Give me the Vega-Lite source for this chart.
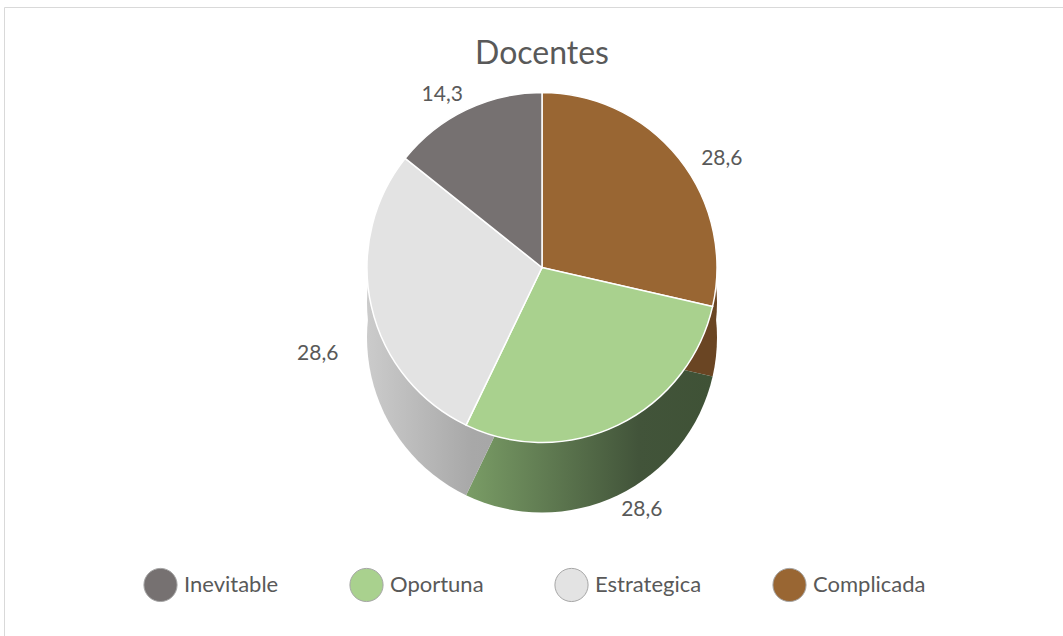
{
  "$schema": "https://vega.github.io/schema/vega-lite/v6.json",
  "width": 1076,
  "height": 629,
  "autosize": {"type": "none"},
  "padding": {"left": 4, "top": 7, "right": 0, "bottom": 0},
  "background": "white",
  "view": {"stroke": "#d9d9d9", "strokeWidth": 1, "fill": "white"},
  "config": {
    "view": {"stroke": "#d9d9d9", "strokeWidth": 1},
    "locale": {"number": {"decimal": ",", "thousands": ".", "grouping": [3], "currency": ["", " €"]}},
    "font": "Lato"
  },
  "title": {"text": "Docentes", "font": "Lato", "fontSize": 32, "fontWeight": "normal", "color": "#595959", "offset": -64, "anchor": "middle"},
  "data": {"values": [
    {"categoria": "Complicada", "valor": 28.6, "orden": 1},
    {"categoria": "Oportuna", "valor": 28.6, "orden": 2},
    {"categoria": "Estrategica", "valor": 28.6, "orden": 3},
    {"categoria": "Inevitable", "valor": 14.3, "orden": 4}
  ]},
  "transform": [
    {"stack": "valor", "groupby": [], "sort": [{"field": "orden", "order": "ascending"}], "as": ["t0", "t1"]}
  ],
  "layer": [
    {
      "transform": [{"filter": "datum.categoria === 'Complicada'"}],
      "mark": {"type": "arc", "outerRadius": 175, "yOffset": 16, "fill": "#6a4523"},
      "encoding": {"theta": {"field": "t0", "type": "quantitative"}, "theta2": {"field": "t1"}}
    },
    {
      "transform": [{"filter": "datum.categoria === 'Complicada'"}],
      "mark": {"type": "arc", "outerRadius": 175, "yOffset": -19, "fill": "#6a4523"},
      "encoding": {"theta": {"field": "t0", "type": "quantitative"}, "theta2": {"field": "t1"}}
    },
    {
      "transform": [{"filter": "datum.categoria === 'Oportuna'"}],
      "mark": {"type": "arc", "outerRadius": 175, "yOffset": 16,
        "fill": {"gradient": "linear", "x1": 0, "x2": 1, "y1": 0, "y2": 0,
          "stops": [{"offset": 0, "color": "#7a9d66"}, {"offset": 0.7, "color": "#42543a"}, {"offset": 1, "color": "#3f5236"}]}},
      "encoding": {"theta": {"field": "t0", "type": "quantitative"}, "theta2": {"field": "t1"}}
    },
    {
      "transform": [{"filter": "datum.categoria === 'Estrategica'"}],
      "mark": {"type": "arc", "outerRadius": 175, "yOffset": 16,
        "fill": {"gradient": "linear", "x1": 0, "x2": 1, "y1": 0, "y2": 0,
          "stops": [{"offset": 0, "color": "#cbcbcb"}, {"offset": 0.6, "color": "#a8a8a8"}, {"offset": 1, "color": "#a4a4a4"}]}},
      "encoding": {"theta": {"field": "t0", "type": "quantitative"}, "theta2": {"field": "t1"}}
    },
    {
      "transform": [{"filter": "datum.categoria === 'Estrategica'"}],
      "mark": {"type": "arc", "outerRadius": 175, "yOffset": -19,
        "fill": {"gradient": "linear", "x1": 0, "x2": 1, "y1": 0, "y2": 0,
          "stops": [{"offset": 0, "color": "#cbcbcb"}, {"offset": 0.6, "color": "#a8a8a8"}, {"offset": 1, "color": "#a4a4a4"}]}},
      "encoding": {"theta": {"field": "t0", "type": "quantitative"}, "theta2": {"field": "t1"}}
    },
    {
      "mark": {"type": "arc", "outerRadius": 175, "yOffset": -54, "stroke": "white", "strokeWidth": 1.5},
      "encoding": {
        "theta": {"field": "t0", "type": "quantitative"},
        "theta2": {"field": "t1"},
        "color": {
          "field": "categoria", "type": "nominal",
          "scale": {"domain": ["Inevitable", "Oportuna", "Estrategica", "Complicada"], "range": ["#767171", "#a9d18e", "#e3e3e3", "#996633"]},
          "legend": {"orient": "none", "legendX": 139, "legendY": 560, "direction": "horizontal", "title": null,
            "symbolType": "circle", "symbolSize": 1100, "symbolStrokeColor": "#a6a6a6", "symbolStrokeWidth": 1,
            "labelFont": "Lato", "labelFontSize": 22, "labelColor": "#595959", "columnPadding": 68, "labelOffset": 6}
        }
      }
    },
    {
      "mark": {"type": "text", "radius": 230, "yOffset": -19, "font": "Lato", "fontSize": 21, "color": "#595959"},
      "encoding": {
        "theta": {"field": "valor", "type": "quantitative", "stack": true},
        "order": {"field": "orden", "type": "quantitative"},
        "detail": {"field": "categoria"},
        "text": {"field": "valor", "type": "quantitative", "format": ".1f"}
      }
    }
  ]
}
